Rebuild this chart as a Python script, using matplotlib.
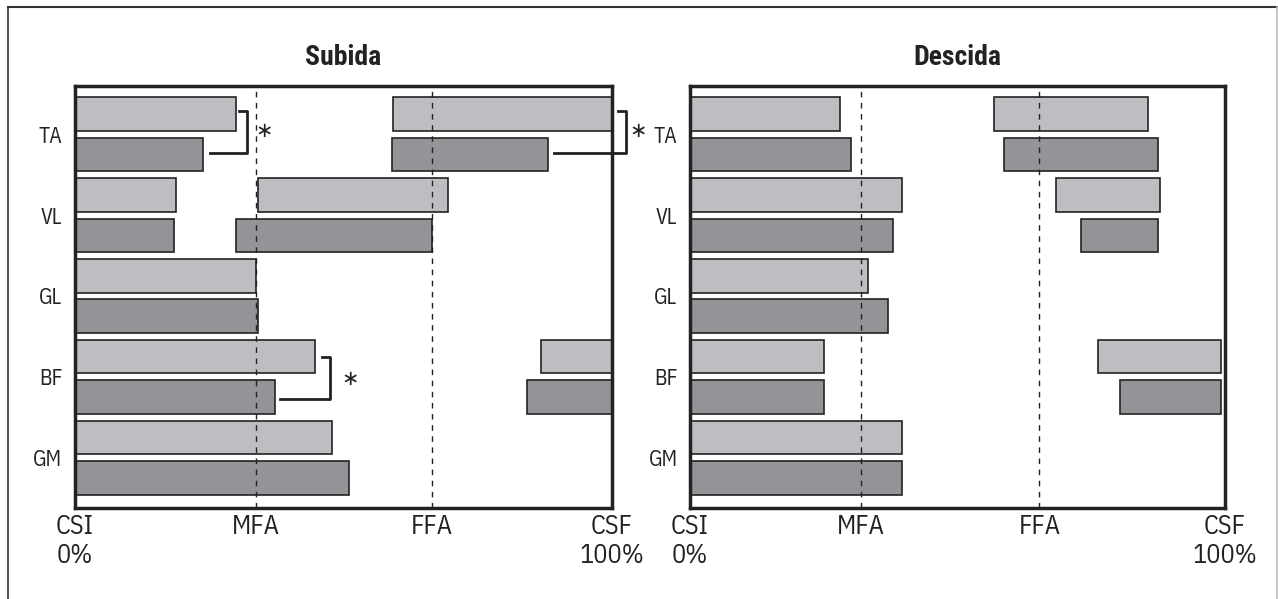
import numpy as np
import matplotlib.pyplot as plt
from matplotlib.lines import Line2D

plt.rcParams['font.family'] = ['IBM Plex Sans Condensed', 'DejaVu Sans']

muscles = ['TA', 'VL', 'GL', 'BF', 'GM']

# activation bursts (start, end) in % of the stride, one list per muscle
# "claro" = first condition (light bars), "escuro" = second condition (dark bars)
subida_claro = [
    [(0, 30.0), (59.3, 100)],
    [(0, 18.8), (34.1, 69.4)],
    [(0, 33.7)],
    [(0, 44.7), (86.8, 100)],
    [(0, 47.9)],
]
subida_escuro = [
    [(0, 23.8), (59.1, 88.0)],
    [(0, 18.5), (30.0, 66.4)],
    [(0, 34.1)],
    [(0, 37.2), (84.1, 100)],
    [(0, 51.0)],
]
descida_claro = [
    [(0, 28.0), (56.8, 85.7)],
    [(0, 39.7), (68.5, 87.8)],
    [(0, 33.2)],
    [(0, 25.0), (76.2, 99.2)],
    [(0, 39.7)],
]
descida_escuro = [
    [(0, 30.1), (58.6, 87.5)],
    [(0, 38.0), (73.0, 87.5)],
    [(0, 37.1)],
    [(0, 25.0), (80.3, 99.2)],
    [(0, 39.7)],
]

# mean foot-contact events (% of stride)
subida_mfa, subida_ffa = 33.7, 66.4
descida_mfa, descida_ffa = 32.0, 65.3

cor_claro = '#bdbec2'
cor_escuro = '#939498'
cor_linha = '#222222'
bar_h = 0.83


def draw_panel(ax, claro, escuro, mfa, ffa, title):
    for i in range(len(muscles)):
        for row, bursts, color in [(2 * i, claro[i], cor_claro), (2 * i + 1, escuro[i], cor_escuro)]:
            for start, end in bursts:
                ax.barh(row, end - start, left=start, height=bar_h,
                        color=color, edgecolor=cor_linha, linewidth=1.2, zorder=2)

    for xv in (mfa, ffa):
        ax.axvline(xv, color=cor_linha, linestyle=(0, (4, 4)), linewidth=1.0, zorder=3)

    ax.set_xlim(0, 100)
    ax.set_ylim(9.74, -0.69)
    ax.set_yticks(np.arange(len(muscles)) * 2 + 0.5)
    ax.set_yticklabels(muscles, fontsize=15.5, color=cor_linha)
    ax.set_xticks([0, mfa, ffa, 100])
    ax.set_xticklabels(['CSI\n0%', 'MFA', 'FFA', 'CSF\n100%'], fontsize=19,
                       color=cor_linha, va='top', linespacing=1.2)
    ax.tick_params(axis='both', length=0)
    ax.tick_params(axis='y', pad=9)
    ax.tick_params(axis='x', pad=4)
    for sp in ax.spines.values():
        sp.set_linewidth(2.5)
        sp.set_color(cor_linha)
    ax.set_title(title, fontsize=20, fontweight='bold', color=cor_linha, pad=15,
                 family=['Roboto Condensed', 'DejaVu Sans'])


def bracket(ax, x_start, x_end, y_top, y_bot, x_star, y_star):
    ax.plot([x_end - 1.5, x_end, x_end, x_start], [y_top, y_top, y_bot, y_bot],
            color=cor_linha, linewidth=2, clip_on=False, zorder=4)
    ax.text(x_star, y_star, '\u2217', fontsize=15, ha='center', va='center',
            family='DejaVu Sans', color=cor_linha, clip_on=False)


fig = plt.figure(figsize=(12.78, 5.99), dpi=100)
ax1 = fig.add_axes([75 / 1278, 91 / 599, 537 / 1278, 422 / 599])
ax2 = fig.add_axes([690 / 1278, 91 / 599, 535 / 1278, 422 / 599])

draw_panel(ax1, subida_claro, subida_escuro, subida_mfa, subida_ffa, 'Subida')
draw_panel(ax2, descida_claro, descida_escuro, descida_mfa, descida_ffa, 'Descida')

# significant differences between conditions
bracket(ax1, 25.2, 32.1, -0.07, 0.96, 35.2, 0.42)
bracket(ax1, 89.2, 102.7, -0.07, 0.96, 104.8, 0.42)
bracket(ax1, 38.2, 47.5, 6.0, 7.05, 51.2, 6.55)

# outer frame
fig.add_artist(Line2D([8 / 1278, 8 / 1278], [0, 1 - 7 / 599], color='#333333', linewidth=1.2))
fig.add_artist(Line2D([8 / 1278, 1277 / 1278], [1 - 7 / 599, 1 - 7 / 599], color='#333333', linewidth=1.5))
fig.add_artist(Line2D([1277 / 1278, 1277 / 1278], [0, 1 - 7 / 599], color='#bbbbbb', linewidth=1.2))

fig.savefig('out.png', dpi=100)
